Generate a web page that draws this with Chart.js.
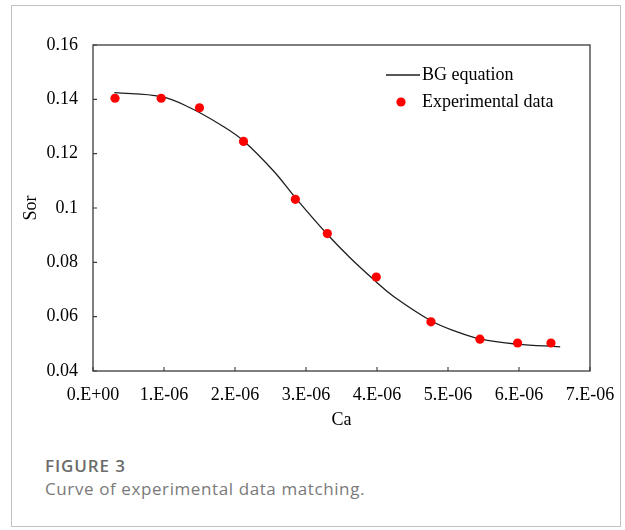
<!DOCTYPE html>
<html>
<head>
<meta charset="utf-8">
<script src="https://cdn.jsdelivr.net/npm/chart.js@4/dist/chart.umd.min.js"></script>
<style>
  html, body { margin: 0; padding: 0; background: #fff; }
  body { width: 625px; height: 530px; position: relative; overflow: hidden; }
  #frame {
    position: absolute; left: 11px; top: 5px; width: 610px; height: 522px;
    box-sizing: border-box; border: 1px solid #c2c2c2;
  }
  #wrap { position: absolute; left: 0; top: 0; width: 625px; height: 440px; }
  #caption {
    position: absolute; left: 45px; top: 454px;
    font-family: "Open Sans", "Noto Sans", sans-serif; font-size: 17px; line-height: 23px;
    color: #7a7a7a; letter-spacing: 0.6px;
  }
  #caption .fig { font-weight: 600; color: #6b6b6b; letter-spacing: 0.9px; }
</style>
</head>
<body>
<div id="frame"></div>
<div id="wrap"><canvas id="chart" width="625" height="440"></canvas></div>
<div id="caption">
  <div class="fig">FIGURE 3</div>
  <div>Curve of experimental data matching.</div>
</div>
<script>
// Experimental capillary number (Ca) and residual oil saturation (Sor)
const expCa  = [0.31e-6, 0.96e-6, 1.50e-6, 2.12e-6, 2.85e-6, 3.30e-6, 3.99e-6, 4.76e-6, 5.45e-6, 5.98e-6, 6.45e-6];
const expSor = [0.1404, 0.1404, 0.1369, 0.1245, 0.1032, 0.0906, 0.0746, 0.0581, 0.0517, 0.0503, 0.0503];

// BG equation fitted curve
const bgCa  = [0.30e-6, 0.96e-6, 1.36e-6, 1.83e-6, 2.13e-6, 2.54e-6, 2.86e-6, 3.29e-6, 3.62e-6, 3.99e-6, 4.23e-6, 4.76e-6, 5.12e-6, 5.45e-6, 5.97e-6, 6.58e-6];
const bgSor = [0.1425, 0.1410, 0.1370, 0.1301, 0.1245, 0.1137, 0.1035, 0.0906, 0.0817, 0.0728, 0.0675, 0.0585, 0.0545, 0.0518, 0.0499, 0.0489];

// Axis tick values
const caTicks  = [0, 1e-6, 2e-6, 3e-6, 4e-6, 5e-6, 6e-6, 7e-6];
const sorTicks = [0.04, 0.06, 0.08, 0.10, 0.12, 0.14, 0.16];

const seriesNames = ['BG equation', 'Experimental data'];

const SERIF = '"Liberation Serif", "Times New Roman", serif';
const AXIS_COLOR = '#3a3a3a';

function caLabel(v) {
  const n = Math.round(v * 1e6);
  return n === 0 ? '0.E+00' : n + '.E-06';
}
function sorLabel(v) {
  return String(parseFloat(v.toFixed(2)));
}

// Plot frame plus short inward tick marks
const framePlugin = {
  id: 'frameTicks',
  afterDraw(chart) {
    const { ctx, chartArea: a, scales } = chart;
    ctx.save();
    ctx.strokeStyle = AXIS_COLOR;
    ctx.lineWidth = 1.3;
    ctx.strokeRect(a.left, a.top, a.right - a.left, a.bottom - a.top);
    ctx.lineWidth = 1.1;
    ctx.beginPath();
    scales.x.ticks.forEach(t => {
      const px = scales.x.getPixelForValue(t.value);
      ctx.moveTo(px, a.bottom);
      ctx.lineTo(px, a.bottom - 4);
    });
    scales.y.ticks.forEach(t => {
      const py = scales.y.getPixelForValue(t.value);
      ctx.moveTo(a.left, py);
      ctx.lineTo(a.left + 4, py);
    });
    ctx.stroke();
    ctx.restore();
  }
};

// Legend inside the plot, upper right
const legendPlugin = {
  id: 'innerLegend',
  afterDraw(chart) {
    const { ctx } = chart;
    const line = chart.data.datasets[0];
    const pts = chart.data.datasets[1];
    ctx.save();
    ctx.font = '18px ' + SERIF;
    ctx.fillStyle = '#000';
    ctx.textBaseline = 'middle';
    ctx.textAlign = 'left';
    ctx.strokeStyle = line.borderColor;
    ctx.lineWidth = line.borderWidth;
    ctx.beginPath();
    ctx.moveTo(386, 75);
    ctx.lineTo(420, 75);
    ctx.stroke();
    ctx.fillText(line.label, 422, 75);
    ctx.fillStyle = pts.backgroundColor;
    ctx.beginPath();
    ctx.arc(401, 102, pts.pointRadius, 0, Math.PI * 2);
    ctx.fill();
    ctx.fillStyle = '#000';
    ctx.fillText(pts.label, 422, 102);
    ctx.restore();
  }
};

new Chart(document.getElementById('chart'), {
  type: 'scatter',
  data: {
    datasets: [
      {
        label: seriesNames[0],
        data: bgCa.map((x, i) => ({ x, y: bgSor[i] })),
        showLine: true,
        pointRadius: 0,
        borderColor: '#1e1e1e',
        borderWidth: 1.3,
        tension: 0.4,
        order: 1
      },
      {
        label: seriesNames[1],
        data: expCa.map((x, i) => ({ x, y: expSor[i] })),
        pointRadius: 4.6,
        pointHoverRadius: 4.6,
        backgroundColor: '#ff0000',
        borderWidth: 0,
        order: 0
      }
    ]
  },
  options: {
    responsive: false,
    animation: false,
    events: [],
    layout: { padding: { top: 45, right: 35, left: 0, bottom: 0 } },
    plugins: { legend: { display: false }, tooltip: { enabled: false } },
    scales: {
      x: {
        type: 'linear',
        min: caTicks[0],
        max: caTicks[caTicks.length - 1],
        afterBuildTicks(scale) { scale.ticks = caTicks.map(v => ({ value: v })); },
        afterFit(scale) { scale.height = 69; scale.paddingLeft = 0; scale.paddingRight = 0; },
        grid: { display: false, drawTicks: false },
        border: { display: false },
        ticks: {
          callback: v => caLabel(v),
          font: { family: SERIF, size: 18 },
          color: '#000',
          padding: 13,
          maxRotation: 0,
          autoSkip: false
        },
        title: {
          display: true,
          text: 'Ca',
          font: { family: SERIF, size: 18 },
          color: '#000',
          padding: { top: 0, bottom: 9 }
        }
      },
      y: {
        type: 'linear',
        min: sorTicks[0],
        max: sorTicks[sorTicks.length - 1],
        afterBuildTicks(scale) { scale.ticks = sorTicks.map(v => ({ value: v })); },
        afterFit(scale) { scale.width = 93; scale.paddingTop = 0; scale.paddingBottom = 0; },
        grid: { display: false, drawTicks: false },
        border: { display: false },
        ticks: {
          callback: v => sorLabel(v),
          font: { family: SERIF, size: 18 },
          color: '#000',
          padding: 15,
          autoSkip: false
        },
        title: {
          display: true,
          text: 'Sor',
          font: { family: SERIF, size: 18 },
          color: '#000',
          padding: { top: 20, bottom: 0 }
        }
      }
    }
  },
  plugins: [framePlugin, legendPlugin]
});
</script>
</body>
</html>
